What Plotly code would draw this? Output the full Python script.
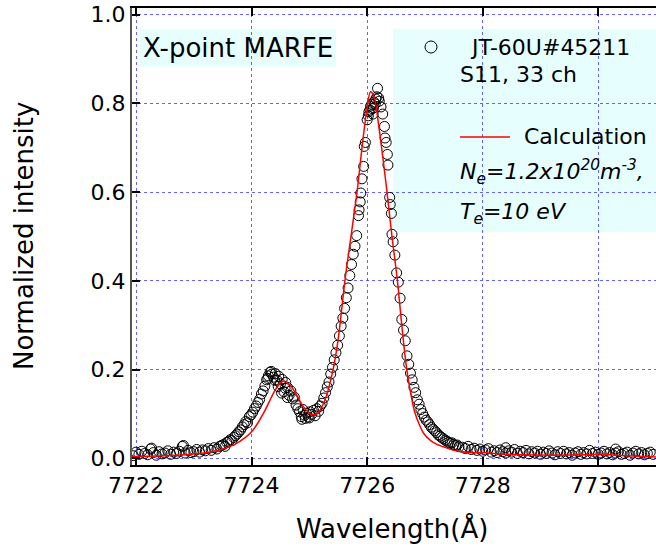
import plotly.graph_objects as go

# measured spectrum (open circles)
wl = [7721.95, 7722.00, 7722.05, 7722.10, 7722.15, 7722.20, 7722.25, 7722.30, 7722.35, 7722.40,
      7722.45, 7722.50, 7722.55, 7722.60, 7722.65, 7722.70, 7722.75, 7722.80, 7722.85, 7722.90,
      7722.95, 7723.00, 7723.05, 7723.10, 7723.15, 7723.20, 7723.25, 7723.30, 7723.35, 7723.40,
      7723.45,
      7723.48, 7723.51, 7723.54, 7723.57, 7723.60, 7723.63, 7723.66, 7723.69, 7723.72, 7723.75,
      7723.78, 7723.81, 7723.84, 7723.87, 7723.90, 7723.93, 7723.96, 7723.99, 7724.02, 7724.05,
      7724.08, 7724.11, 7724.14, 7724.17, 7724.20, 7724.23, 7724.26, 7724.29, 7724.32, 7724.35,
      7724.38, 7724.41, 7724.44, 7724.47, 7724.50, 7724.53, 7724.56, 7724.59, 7724.62, 7724.65,
      7724.68, 7724.71, 7724.74, 7724.77, 7724.80, 7724.83, 7724.86, 7724.89, 7724.92, 7724.95,
      7724.98, 7725.01, 7725.04, 7725.07, 7725.10, 7725.13, 7725.16, 7725.19, 7725.22, 7725.25,
      7725.28, 7725.31, 7725.34, 7725.37, 7725.40, 7725.43, 7725.46, 7725.49, 7725.52, 7725.55,
      7725.58, 7725.61, 7725.64, 7725.67, 7725.70, 7725.73, 7725.76, 7725.79, 7725.82, 7725.85,
      7725.88, 7725.91, 7725.94, 7725.97, 7726.00, 7726.03, 7726.06, 7726.09, 7726.12, 7726.15,
      7726.18, 7726.21, 7726.24, 7726.27, 7726.30, 7726.33, 7726.36, 7726.39, 7726.42, 7726.45,
      7726.48, 7726.51, 7726.54, 7726.57, 7726.60, 7726.63, 7726.66, 7726.69, 7726.72, 7726.75,
      7726.78, 7726.81, 7726.84, 7726.87, 7726.90, 7726.93, 7726.96, 7726.99, 7727.02, 7727.05,
      7727.08, 7727.11, 7727.14, 7727.17, 7727.20, 7727.23, 7727.26, 7727.29, 7727.32, 7727.35,
      7727.38, 7727.41, 7727.44, 7727.47, 7727.50, 7727.53, 7727.56, 7727.59,
      7727.65, 7727.70, 7727.75, 7727.80, 7727.85, 7727.90, 7727.95, 7728.00, 7728.05, 7728.10,
      7728.15, 7728.20, 7728.25, 7728.30, 7728.35, 7728.40, 7728.45, 7728.50, 7728.55, 7728.60,
      7728.65, 7728.70, 7728.75, 7728.80, 7728.85, 7728.90, 7728.95, 7729.00, 7729.05, 7729.10,
      7729.15, 7729.20, 7729.25, 7729.30, 7729.35, 7729.40, 7729.45, 7729.50, 7729.55, 7729.60,
      7729.65, 7729.70, 7729.75, 7729.80, 7729.85, 7729.90, 7729.95, 7730.00, 7730.05, 7730.10,
      7730.15, 7730.20, 7730.25, 7730.30, 7730.35, 7730.40, 7730.45, 7730.50, 7730.55, 7730.60,
      7730.65, 7730.70, 7730.75, 7730.80, 7730.85, 7730.90, 7730.95,
      7724.28, 7724.34, 7724.40, 7724.46, 7724.52, 7724.58, 7724.62, 7724.87, 7724.93, 7725.00,
      7725.86, 7725.89, 7725.95, 7726.02, 7726.05, 7726.08, 7726.10, 7726.11, 7726.14, 7726.17,
      7726.20, 7726.31, 7726.35, 7726.40, 7726.43, 7728.40, 7730.30, 7722.82, 7722.27]
inten = [0.006, 0.014, 0.009, 0.016, 0.011, 0.008, 0.021, 0.013, 0.007, 0.015,
         0.010, 0.012, 0.017, 0.009, 0.014, 0.011, 0.016, 0.027, 0.012, 0.018,
         0.013, 0.015, 0.020, 0.014, 0.019, 0.017, 0.022, 0.018, 0.024, 0.021,
         0.027,
         0.029, 0.031, 0.027, 0.036, 0.038, 0.042, 0.040, 0.047, 0.051, 0.055,
         0.060, 0.064, 0.071, 0.076, 0.083, 0.080, 0.094, 0.098, 0.104, 0.112,
         0.118, 0.126, 0.133, 0.145, 0.152, 0.163, 0.177, 0.186, 0.194, 0.190,
         0.183, 0.191, 0.176, 0.185, 0.168, 0.178, 0.150, 0.171, 0.160, 0.142,
         0.152, 0.134, 0.138, 0.120, 0.112, 0.105, 0.094, 0.110, 0.097, 0.102,
         0.093, 0.105, 0.099, 0.108, 0.096, 0.112, 0.106, 0.118, 0.124, 0.136,
         0.148, 0.161, 0.172, 0.190, 0.205, 0.222, 0.238, 0.255, 0.276, 0.298,
         0.316, 0.338, 0.362, 0.384, 0.412, 0.437, 0.460, 0.478, 0.502, 0.547,
         0.578, 0.630, 0.658, 0.712, 0.763, 0.781, 0.794, 0.788, 0.803, 0.810,
         0.834, 0.805, 0.792, 0.776, 0.748, 0.712, 0.661, 0.588, 0.552, 0.488,
         0.458, 0.418, 0.397, 0.361, 0.313, 0.289, 0.265, 0.231, 0.212, 0.192,
         0.177, 0.160, 0.148, 0.132, 0.122, 0.110, 0.101, 0.093, 0.086, 0.082,
         0.076, 0.070, 0.066, 0.062, 0.058, 0.053, 0.050, 0.047, 0.044, 0.041,
         0.039, 0.036, 0.034, 0.035, 0.031, 0.029, 0.030, 0.026,
         0.025, 0.022, 0.027, 0.020, 0.023, 0.018, 0.021, 0.016, 0.019, 0.022,
         0.014, 0.017, 0.013, 0.019, 0.015, 0.012, 0.017, 0.014, 0.020, 0.011,
         0.016, 0.013, 0.018, 0.010, 0.015, 0.012, 0.016, 0.009, 0.014, 0.011,
         0.017, 0.012, 0.008, 0.015, 0.011, 0.016, 0.010, 0.013, 0.007, 0.012,
         0.015, 0.009, 0.013, 0.010, 0.018, 0.011, 0.014, 0.009, 0.012, 0.016,
         0.010, 0.013, 0.008, 0.012, 0.015, 0.009, 0.011, 0.014, 0.007, 0.012,
         0.016, 0.010, 0.013, 0.008, 0.011, 0.014, 0.009,
         0.180, 0.196, 0.176, 0.162, 0.147, 0.158, 0.137, 0.088, 0.090, 0.091,
         0.560, 0.598, 0.703, 0.772, 0.785, 0.798, 0.776, 0.790, 0.799, 0.815,
         0.812, 0.722, 0.685, 0.572, 0.505, 0.024, 0.021, 0.029, 0.023]

# calculated profile (red line)
calc_wl = [7721.93, 7722.0, 7722.5, 7723.0, 7723.3, 7723.5, 7723.7, 7723.9, 7724.0, 7724.1,
           7724.2, 7724.3, 7724.4, 7724.5, 7724.55, 7724.6, 7724.7, 7724.8, 7724.9, 7725.0,
           7725.07, 7725.15, 7725.25, 7725.33, 7725.42, 7725.5, 7725.62, 7725.72, 7725.83, 7725.92,
           7726.0, 7726.06, 7726.12, 7726.2, 7726.27, 7726.34, 7726.43, 7726.52, 7726.6, 7726.68,
           7726.75, 7726.82, 7726.9, 7726.98, 7727.1, 7727.2, 7727.32, 7727.5, 7727.7, 7728.0,
           7728.3, 7728.7, 7729.2, 7729.8, 7730.0, 7730.5, 7731.0]
calc_int = [0.004, 0.004, 0.006, 0.010, 0.015, 0.021, 0.031, 0.048, 0.060, 0.078,
            0.100, 0.126, 0.152, 0.170, 0.174, 0.172, 0.160, 0.138, 0.116, 0.102,
            0.098, 0.102, 0.125, 0.156, 0.206, 0.270, 0.405, 0.500, 0.605, 0.710,
            0.790, 0.826, 0.815, 0.750, 0.680, 0.605, 0.500, 0.405, 0.300, 0.206,
            0.150, 0.106, 0.077, 0.056, 0.040, 0.032, 0.026, 0.018, 0.014, 0.013,
            0.010, 0.008, 0.007, 0.008, 0.009, 0.006, 0.003]

xticks = [7722, 7724, 7726, 7728, 7730]
yticks = [0.0, 0.2, 0.4, 0.6, 0.8, 1.0]

FONT = "DejaVu Sans"
W, H = 656, 552
L, R, T, B = 132, 0, 8, 87


def px(x):
    return (x - L) / (W - L - R)


def py(y):
    return (H - B - y) / (H - T - B)


fig = go.Figure()
fig.add_trace(go.Scatter(x=wl, y=inten, mode="markers",
                         marker=dict(symbol="circle-open", size=10, color="black",
                                     line=dict(width=1, color="black")),
                         showlegend=False))
fig.add_trace(go.Scatter(x=calc_wl, y=calc_int, mode="lines",
                         line=dict(color="red", width=1.5, shape="spline"),
                         showlegend=False))

grid = dict(showgrid=True, gridcolor="rgba(70,70,255,0.85)", griddash="dot", gridwidth=1,
            zeroline=False, ticks="inside", ticklen=8, tickwidth=1.5, tickcolor="black",
            tickfont=dict(family=FONT, size=22, color="black"))

fig.update_xaxes(range=[7721.93, 7731.0], tickvals=xticks, showline=True, linecolor="black",
                 linewidth=1.5, mirror="ticks", **grid)
fig.update_yaxes(range=[-0.015, 1.015], tickvals=yticks, tickformat=".1f", showline=True,
                 linecolor="#555555", linewidth=2, **grid)

cyan = "#E6FFFE"
shapes = [
    dict(type="rect", xref="paper", yref="paper", x0=px(140), x1=px(336), y0=py(67), y1=py(29),
         fillcolor=cyan, line=dict(width=0), layer="between"),
    dict(type="rect", xref="paper", yref="paper", x0=px(393), x1=1.0, y0=py(232), y1=py(29),
         fillcolor=cyan, line=dict(width=0), layer="between"),
    dict(type="circle", xref="paper", yref="paper", xsizemode="pixel", ysizemode="pixel",
         xanchor=px(431), yanchor=py(47), x0=-6, x1=6, y0=-6, y1=6,
         line=dict(color="black", width=1)),
    dict(type="line", xref="paper", yref="paper", x0=px(460), x1=px(510), y0=py(137), y1=py(137),
         line=dict(color="red", width=1.5)),
]

txt = dict(family=FONT, size=22, color="black")
ttl = dict(family=FONT, size=26, color="black")
annotations = [
    dict(text="X-point MARFE", x=px(238), y=py(48), font=dict(family=FONT, size=26, color="black"),
         xanchor="center"),
    dict(text="JT-60U#45211", x=px(468), y=py(47), font=txt, xanchor="left"),
    dict(text="S11, 33 ch", x=px(458), y=py(74), font=txt, xanchor="left"),
    dict(text="Calculation", x=px(522), y=py(137), font=txt, xanchor="left"),
    dict(text="<i>N<sub>e</sub>=1.2x10<sup>20</sup>m<sup>-3</sup>,</i>", x=px(458), y=py(172),
         font=txt, xanchor="left"),
    dict(text="<i>T<sub>e</sub>=10 eV</i>", x=px(458), y=py(213), font=txt, xanchor="left"),
    dict(text="Wavelength(Å)", x=px(392), y=py(528), font=ttl, xanchor="center"),
    dict(text="Normalized intensity", x=px(24), y=py(236), font=ttl, xanchor="center",
         textangle=-90),
]
for a in annotations:
    a.update(xref="paper", yref="paper", yanchor="middle", showarrow=False)

fig.update_layout(width=W, height=H, margin=dict(l=L, r=R, t=T, b=B),
                  plot_bgcolor="white", paper_bgcolor="white",
                  font=dict(family=FONT), shapes=shapes, annotations=annotations)
fig.write_html("out.html", config={"displayModeBar": False},
               post_script="document.body.style.margin='0';")
